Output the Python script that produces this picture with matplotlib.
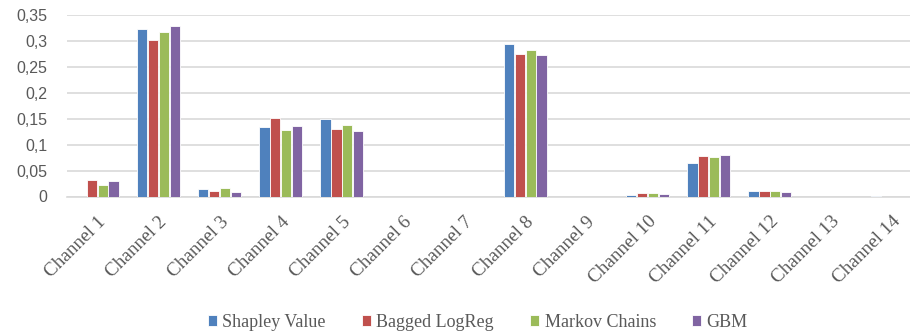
import numpy as np
import matplotlib.pyplot as plt

channels = [f"Channel {i}" for i in range(1, 15)]
series = ["Shapley Value", "Bagged LogReg", "Markov Chains", "GBM"]

shapley = [0.0, 0.323, 0.0147, 0.1333, 0.150, 0.0, 0.0, 0.294, 0.0, 0.003, 0.0654, 0.0103, 0.0, 0.001]
bagged = [0.032, 0.3006, 0.0115, 0.152, 0.1295, 0.0, 0.0, 0.2744, 0.0, 0.0064, 0.078, 0.011, 0.0, 0.0]
markov = [0.0224, 0.316, 0.0173, 0.1276, 0.1385, 0.0, 0.0, 0.2814, 0.0, 0.0064, 0.077, 0.011, 0.0, 0.0]
gbm = [0.030, 0.3276, 0.0083, 0.1365, 0.1263, 0.0, 0.0, 0.2724, 0.0, 0.005, 0.080, 0.009, 0.0, 0.0]

colors = ["#4F81BD", "#C0504D", "#9BBB59", "#8064A2"]
yticks = [0, 0.05, 0.1, 0.15, 0.2, 0.25, 0.3, 0.35]
ytick_labels = ["0", "0,05", "0,1", "0,15", "0,2", "0,25", "0,3", "0,35"]

fig = plt.figure(figsize=(9.1, 3.35), dpi=100)
# plot area runs a little past the right edge of the figure
ax = fig.add_axes([66.7 / 910, 138.5 / 335, 856 / 910, 181.8 / 335])

x = np.arange(len(channels))
w = 0.178
for k, (name, vals) in enumerate(zip(series, [shapley, bagged, markov, gbm])):
    ax.bar(x + (k - 1.5) * w, vals, width=w * 0.95, color=colors[k],
           edgecolor="white", linewidth=0.6, label=name, zorder=3)

ax.set_xlim(-0.5, len(channels) - 0.5)
ax.set_ylim(0, 0.35)
ax.set_yticks(yticks)
ax.set_yticklabels(ytick_labels, family="Liberation Sans", fontsize=11.5, color="#595959")
ax.yaxis.grid(True, color="#D9D9D9", linewidth=1.2, zorder=0)
for s in ["top", "right", "left"]:
    ax.spines[s].set_visible(False)
ax.spines["bottom"].set_color("#D9D9D9")
ax.spines["bottom"].set_linewidth(1.2)
ax.tick_params(length=0, pad=14, axis="y")
ax.tick_params(length=0, axis="x", pad=12)

ax.set_xticks(x)
ax.set_xticklabels(channels, rotation=45, ha="right", va="top", rotation_mode="anchor",
                   family="Liberation Serif", fontsize=13.8, color="#595959")

leg = fig.legend(loc="center", bbox_to_anchor=(0.525, 0.038), ncol=4, frameon=False,
                 prop={"family": "Liberation Serif", "size": 13},
                 handlelength=0.5, handleheight=0.5, handletextpad=0.3, columnspacing=2.0)
for t in leg.get_texts():
    t.set_color("#595959")

fig.savefig("out.png", dpi=100)
